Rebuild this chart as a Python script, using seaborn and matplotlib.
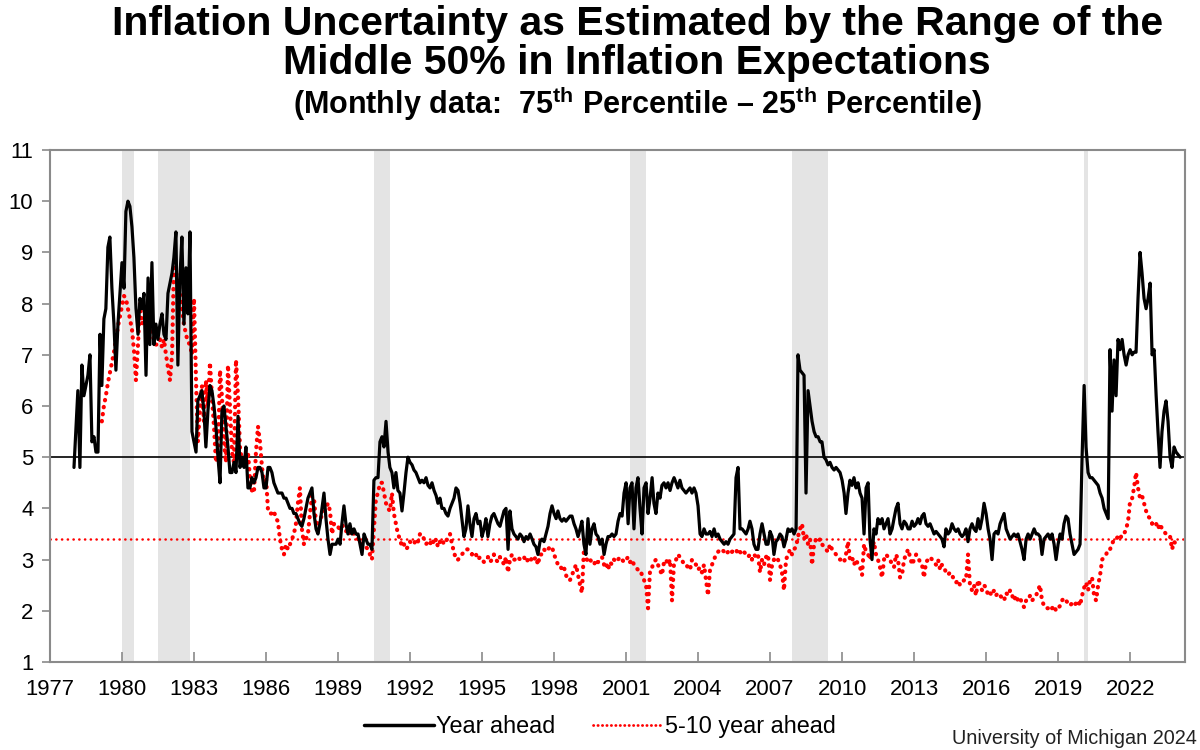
import pandas as pd
import matplotlib
matplotlib.use("Agg")
import matplotlib.pyplot as plt
import matplotlib.dates as mdates
from matplotlib import font_manager
from matplotlib.lines import Line2D
import seaborn as sns

# =====================================
# Data
# =====================================

# Year-ahead expectations, 75th - 25th percentile, monthly from Jan 1978
year_ahead = [
    4.8, 5.6, 6.3, 4.8, 6.8, 6.2, 6.4, 6.6, 7.0, 5.3, 5.4, 5.1,            # 1978
    5.1, 7.4, 6.4, 7.7, 7.9, 9.1, 9.3, 8.3, 7.6, 6.7, 7.6, 8.2,            # 1979
    8.8, 8.3, 9.8, 10.0, 9.9, 9.5, 8.9, 7.9, 7.4, 8.1, 7.9, 8.2,           # 1980
    6.6, 8.5, 7.2, 8.8, 7.2, 7.6, 7.3, 7.6, 7.8, 7.4, 7.3, 8.2,            # 1981
    8.4, 8.6, 8.9, 9.4, 6.8, 8.5, 9.3, 7.6, 8.7, 7.8, 9.4, 5.5,            # 1982
    5.3, 5.1, 6.1, 6.2, 6.3, 5.9, 5.2, 5.9, 6.4, 6.3, 6.0, 5.6,            # 1983
    5.0, 4.5, 5.9, 6.0, 5.6, 5.2, 4.7, 4.7, 4.9, 4.7, 5.8, 4.8,            # 1984
    5.0, 4.8, 5.2, 4.4, 4.4, 4.6, 4.5, 4.6, 4.8, 4.8, 4.7, 4.4,            # 1985
    4.4, 4.8, 4.8, 4.7, 4.5, 4.4, 4.3, 4.3, 4.3, 4.2, 4.2, 4.1,            # 1986
    4.0, 4.0, 3.9, 3.9, 3.8, 3.7, 3.65, 3.8, 4.0, 4.2, 4.3, 4.4,           # 1987
    3.9, 3.6, 3.5, 3.7, 4.0, 4.3, 3.8, 3.4, 3.1, 3.3, 3.3, 3.3,            # 1988
    3.4, 3.3, 3.7, 4.05, 3.7, 3.5, 3.7, 3.5, 3.6, 3.5, 3.5, 3.3,           # 1989
    3.1, 3.5, 3.4, 3.3, 3.3, 3.2, 4.55, 4.6, 4.6, 5.3, 5.4, 5.2,           # 1990
    5.7, 5.1, 4.8, 4.7, 4.4, 4.7, 4.35, 4.3, 3.95, 4.3, 4.7, 5.0,          # 1991
    4.9, 4.85, 4.75, 4.7, 4.6, 4.5, 4.55, 4.5, 4.6, 4.45, 4.4, 4.5,        # 1992
    4.35, 4.25, 4.1, 4.2, 4.0, 4.0, 3.9, 3.85, 4.0, 4.1, 4.2, 4.4,         # 1993
    4.35, 4.1, 3.8, 3.45, 3.6, 4.05, 3.7, 3.45, 3.8, 3.9, 3.7, 3.75,       # 1994
    3.45, 3.6, 3.8, 3.45, 3.7, 3.85, 3.9, 3.8, 3.7, 3.65, 3.8, 3.95,       # 1995
    4.0, 3.2, 3.95, 3.6, 3.5, 3.45, 3.4, 3.5, 3.45, 3.35, 3.45, 3.4,       # 1996
    3.5, 3.4, 3.3, 3.25, 3.1, 3.35, 3.4, 3.35, 3.5, 3.65, 3.9, 4.05,       # 1997
    3.9, 3.8, 3.95, 3.8, 3.75, 3.8, 3.75, 3.8, 3.85, 3.85, 3.7, 3.6,       # 1998
    3.45, 3.6, 3.75, 3.3, 3.1, 3.8, 3.3, 3.6, 3.7, 3.5, 3.45, 3.3,         # 1999
    3.4, 3.1, 3.3, 3.45, 3.45, 3.5, 3.45, 3.5, 3.75, 3.9, 3.85, 4.3,       # 2000
    4.5, 3.7, 4.4, 4.5, 3.6, 4.4, 4.6, 4.0, 3.5, 4.4, 4.5, 3.9,            # 2001
    4.2, 4.6, 4.1, 3.9, 4.3, 4.2, 4.45, 4.5, 4.4, 4.5, 4.35, 4.5,          # 2002
    4.6, 4.5, 4.4, 4.55, 4.4, 4.35, 4.3, 4.35, 4.4, 4.3, 4.4, 4.3,         # 2003
    4.05, 3.5, 3.45, 3.6, 3.5, 3.5, 3.55, 3.45, 3.6, 3.45, 3.5, 3.4,       # 2004
    3.35, 3.3, 3.35, 3.3, 3.4, 3.45, 3.5, 4.6, 4.8, 3.6, 3.6, 3.55,        # 2005
    3.5, 3.6, 3.75, 3.6, 3.3, 3.2, 3.2, 3.5, 3.7, 3.5, 3.3, 3.3,           # 2006
    3.55, 3.45, 3.1, 3.35, 3.4, 3.5, 3.45, 3.25, 3.4, 3.6, 3.55, 3.6,      # 2007
    3.5, 3.6, 7.0, 6.7, 6.65, 6.6, 4.3, 6.3, 6.0, 5.7, 5.5, 5.4,           # 2008
    5.4, 5.3, 5.3, 5.0, 4.95, 4.85, 4.9, 4.8, 4.75, 4.8, 4.75, 4.7,        # 2009
    4.55, 4.3, 3.9, 4.3, 4.55, 4.45, 4.6, 4.4, 4.5, 4.3, 4.2, 3.5,         # 2010
    4.4, 4.5, 3.4, 3.0, 3.6, 3.5, 3.8, 3.7, 3.8, 3.6, 3.7, 3.8,            # 2011
    3.5, 3.6, 3.8, 4.0, 4.1, 3.7, 3.6, 3.75, 3.7, 3.6, 3.6, 3.75,          # 2012
    3.65, 3.7, 3.8, 3.7, 3.85, 3.9, 3.7, 3.65, 3.7, 3.6, 3.5, 3.55,        # 2013
    3.5, 3.45, 3.4, 3.25, 3.6, 3.5, 3.55, 3.7, 3.6, 3.55, 3.6, 3.5,        # 2014
    3.45, 3.5, 3.6, 3.35, 3.6, 3.7, 3.6, 3.55, 3.8, 3.6, 3.8, 4.1,         # 2015
    3.9, 3.6, 3.4, 3.0, 3.5, 3.55, 3.5, 3.7, 3.8, 3.9, 3.6, 3.5,           # 2016
    3.4, 3.45, 3.5, 3.45, 3.5, 3.35, 3.2, 3.0, 3.4, 3.5, 3.4, 3.5,         # 2017
    3.6, 3.5, 3.5, 3.45, 3.1, 3.4, 3.45, 3.5, 3.4, 3.5, 3.3, 3.0,          # 2018
    3.3, 3.5, 3.4, 3.7, 3.85, 3.8, 3.5, 3.3, 3.1, 3.15, 3.2, 3.3,          # 2019
    5.0, 6.4, 5.2, 4.7, 4.6, 4.6, 4.55, 4.5, 4.45, 4.3, 4.2, 4.0,          # 2020
    3.9, 3.8, 7.1, 5.9, 6.9, 6.2, 7.3, 7.1, 7.3, 7.0, 6.8, 7.0,            # 2021
    7.1, 7.0, 7.05, 7.05, 8.1, 9.0, 8.6, 8.1, 7.9, 8.1, 8.4, 7.0,          # 2022
    7.1, 6.2, 5.5, 4.8, 5.5, 5.9, 6.1, 5.7, 5.0, 4.8, 5.2, 5.1,            # 2023
    5.05, 5.0,                                                             # 2024
]

# 5-10 year ahead expectations, monthly from Mar 1979
long_run = [
    5.7, 6.0, 6.2, 6.45, 6.65, 6.85, 7.05, 7.3, 7.55, 7.75,                # 1979
    7.95, 8.15, 8.1, 7.9, 7.7, 7.5, 7.1, 6.5, 7.2, 8.0, 7.6, 7.7,          # 1980
    7.6, 7.5, 7.6, 7.4, 7.3, 7.2, 7.2, 7.3, 7.15, 7.3, 7.0, 6.75,          # 1981
    6.5, 7.0, 8.7, 8.6, 8.5, 8.2, 7.9, 7.6, 7.4, 7.25, 7.2, 7.0,           # 1982
    8.1, 6.5, 5.3, 5.9, 6.4, 5.7, 6.5, 6.0, 6.85, 6.2, 5.6, 4.9,           # 1983
    5.1, 6.7, 6.2, 5.3, 4.9, 6.8, 6.0, 5.1, 4.9, 6.9, 6.2, 5.2,            # 1984
    4.9, 5.0, 4.8, 5.1, 4.6, 4.35, 4.3, 5.1, 5.6, 5.3, 4.8, 4.5,           # 1985
    4.6, 3.95, 3.9, 3.9, 3.95, 3.8, 3.75, 3.4, 3.2, 3.1, 3.3, 3.2,         # 1986
    3.3, 3.4, 3.5, 3.7, 4.1, 4.4, 3.6, 3.3, 3.4, 3.5, 3.9, 4.25,           # 1987
    4.2, 3.7, 3.65, 3.8, 3.85, 3.9, 4.0, 4.1, 3.95, 3.5, 3.7, 3.65,        # 1988
    3.65, 3.55, 3.7, 3.6, 3.55, 3.6, 3.5, 3.55, 3.5, 3.45, 3.4, 3.4,       # 1989
    3.3, 3.3, 3.25, 3.2, 3.1, 3.0, 3.6, 4.2, 4.3, 4.5, 4.5, 4.3,           # 1990
    4.1, 4.0, 3.95, 4.3, 3.9, 3.7, 3.5, 3.4, 3.25, 3.3, 3.2, 3.25,         # 1991
    3.35, 3.3, 3.3, 3.4, 3.35, 3.5, 3.5, 3.4, 3.3, 3.35, 3.3, 3.4,         # 1992
    3.3, 3.4, 3.25, 3.35, 3.4, 3.3, 3.35, 3.45, 3.5, 3.3, 3.15, 3.0,       # 1993
    3.0, 3.05, 3.1, 3.15, 3.2, 3.2, 3.15, 3.1, 3.15, 3.1, 3.0, 3.05,       # 1994
    3.0, 2.95, 3.0, 3.05, 2.95, 3.0, 3.1, 3.0, 2.95, 3.05, 3.0, 2.9,       # 1995
    3.05, 2.75, 3.0, 3.1, 3.0, 3.0, 3.05, 3.0, 3.0, 3.05, 2.95, 3.0,       # 1996
    2.95, 3.05, 3.0, 3.05, 2.9, 3.1, 3.1, 3.2, 3.15, 3.2, 3.25, 3.25,      # 1997
    3.1, 3.0, 2.9, 2.9, 2.8, 2.85, 2.7, 2.6, 2.6, 2.7, 2.8, 2.9,           # 1998
    2.7, 2.5, 2.35, 3.2, 3.05, 2.95, 3.0, 2.95, 2.9, 3.0, 2.95, 3.0,       # 1999
    3.05, 2.9, 2.95, 2.8, 2.95, 2.9, 3.0, 2.95, 3.0, 3.05, 3.0, 2.95,      # 2000
    3.0, 3.05, 2.95, 3.0, 2.9, 2.85, 2.8, 2.8, 2.7, 2.6, 2.5, 2.05,        # 2001
    2.8, 2.85, 2.95, 3.0, 2.9, 2.8, 2.7, 2.95, 3.0, 2.9, 3.0, 2.2,         # 2002
    2.95, 3.0, 3.1, 3.05, 3.0, 2.9, 2.9, 2.85, 2.8, 3.0, 2.95, 2.9,        # 2003
    2.8, 2.85, 2.75, 2.9, 2.6, 2.3, 2.8, 2.9, 3.0, 3.1, 3.15, 3.2,         # 2004
    3.2, 3.15, 3.1, 3.15, 3.2, 3.15, 3.2, 3.2, 3.1, 3.15, 3.1, 3.15,       # 2005
    3.1, 3.05, 3.1, 3.0, 3.1, 3.05, 3.1, 2.75, 3.0, 2.9, 3.05, 3.1,        # 2006
    2.6, 2.9, 3.0, 2.95, 3.0, 2.9, 2.75, 2.4, 3.0, 3.1, 3.2, 3.1,          # 2007
    3.2, 3.25, 3.45, 3.6, 3.7, 3.4, 3.5, 3.3, 3.4, 2.9, 3.3, 3.4,          # 2008
    3.35, 3.4, 3.3, 3.25, 3.2, 3.15, 3.3, 3.2, 3.15, 3.1, 3.05, 3.0,       # 2009
    3.0, 2.95, 3.1, 3.35, 3.0, 3.05, 2.9, 3.0, 2.9, 2.85, 2.7, 3.3,        # 2010
    3.15, 3.1, 3.0, 3.2, 3.35, 3.1, 3.0, 2.85, 2.65, 3.0, 3.1, 3.05,       # 2011
    3.0, 2.9, 2.85, 3.1, 3.0, 2.65, 2.7, 3.0, 3.1, 3.2, 3.05, 2.9,         # 2012
    3.0, 3.1, 3.05, 2.95, 2.9, 2.65, 2.95, 3.0, 3.05, 3.0, 2.95, 2.9,      # 2013
    3.0, 2.8, 2.9, 2.85, 2.75, 2.7, 2.75, 2.7, 2.6, 2.55, 2.6, 2.5,        # 2014
    2.55, 2.6, 2.6, 3.1, 2.5, 2.4, 2.5, 2.3, 2.6, 2.5, 2.4, 2.5,           # 2015
    2.45, 2.3, 2.35, 2.3, 2.4, 2.3, 2.35, 2.3, 2.25, 2.2, 2.35, 2.3,       # 2016
    2.4, 2.3, 2.2, 2.3, 2.2, 2.25, 2.15, 2.07, 2.2, 2.2, 2.3, 2.2,         # 2017
    2.25, 2.3, 2.4, 2.5, 2.2, 2.1, 2.05, 2.05, 2.1, 2.05, 2.1, 2.0,        # 2018
    2.05, 2.1, 2.2, 2.25, 2.2, 2.15, 2.1, 2.15, 2.1, 2.15, 2.2, 2.1,       # 2019
    2.3, 2.45, 2.55, 2.4, 2.6, 2.65, 2.3, 2.2, 2.5, 2.7, 3.0, 3.05,        # 2020
    3.1, 3.2, 3.2, 3.3, 3.4, 3.4, 3.45, 3.4, 3.5, 3.5, 3.6, 3.75,          # 2021
    4.15, 4.2, 4.4, 4.7, 4.4, 4.2, 4.25, 4.1, 3.95, 3.85, 3.8, 3.7,        # 2022
    3.75, 3.7, 3.6, 3.7, 3.6, 3.55, 3.5, 3.45, 3.45, 3.2, 3.35, 3.3,       # 2023
]

# Recession periods (shaded)
rec_start = ["1980-01-01", "1981-07-01", "1990-07-01", "2001-03-01", "2007-12-01", "2020-02-01"]
rec_end = ["1980-07-01", "1982-11-01", "1991-03-01", "2001-11-01", "2009-06-01", "2020-04-01"]

# Reference levels
year_ahead_ref = 5.0
long_run_ref = 3.4

y_ticks = list(range(1, 12))

df_ya = pd.DataFrame({
    "date": pd.date_range("1978-01-01", periods=len(year_ahead), freq="MS"),
    "value": year_ahead,
})
df_lr = pd.DataFrame({
    "date": pd.date_range("1979-03-01", periods=len(long_run), freq="MS"),
    "value": long_run,
})

# =====================================
# Style
# =====================================

sns.set_theme(style="white")
installed = {f.name for f in font_manager.fontManager.ttflist}
narrow = "Liberation Sans Narrow" in installed
base_font = "Liberation Sans Narrow" if narrow else "Liberation Sans"
plt.rcParams["font.family"] = [base_font, "Liberation Sans", "DejaVu Sans"]
plt.rcParams["mathtext.fontset"] = "custom"
plt.rcParams["mathtext.bf"] = base_font + ":bold"
plt.rcParams["mathtext.rm"] = base_font + ":bold"
plt.rcParams["text.color"] = "black"
plt.rcParams["xtick.labelcolor"] = "black"
plt.rcParams["ytick.labelcolor"] = "black"

k = 1.0 if narrow else 0.84   # shrink text if no condensed face

# =====================================
# Plot
# =====================================

fig = plt.figure(figsize=(12, 7.5), dpi=100)
ax = fig.add_axes([50 / 1200, 88 / 750, 1135 / 1200, 512 / 750])

for s, e in zip(rec_start, rec_end):
    ax.axvspan(pd.Timestamp(s), pd.Timestamp(e), color="#e4e4e4", lw=0, zorder=0)

ax.axhline(year_ahead_ref, color="black", lw=1.2, zorder=1)
ax.axhline(long_run_ref, color="red", lw=1.8, linestyle=(0, (0.1, 2.2)),
           dash_capstyle="round", zorder=1)

sns.lineplot(data=df_lr, x="date", y="value", ax=ax, color="red", lw=3,
             linestyle=(0, (0.1, 1.6)), dash_capstyle="round", zorder=2)
sns.lineplot(data=df_ya, x="date", y="value", ax=ax, color="black", lw=2.3, zorder=3)

ax.set_xlim(pd.Timestamp("1977-01-01"), pd.Timestamp("2024-04-15"))
ax.set_ylim(1, 11)
ax.set_yticks(y_ticks)
ax.xaxis.set_major_locator(mdates.YearLocator(3))
ax.xaxis.set_major_formatter(mdates.DateFormatter("%Y"))
ax.set_xlabel("")
ax.set_ylabel("")

for side in ["left", "bottom", "top", "right"]:
    ax.spines[side].set_visible(True)
    ax.spines[side].set_color("#8a8a8a")
    ax.spines[side].set_linewidth(1.5)

ax.tick_params(axis="x", direction="in", length=7, width=1.2, color="#8a8a8a",
               labelsize=19 * k, pad=12, bottom=True)
ax.tick_params(axis="y", direction="out", length=6, width=1.2, color="#8a8a8a",
               labelsize=19 * k, pad=6, left=True)

# Titles
title_size = 29.5 if not narrow else 32
sub_size = 22 if not narrow else 22
fig.text(0.531, 0.968, "Inflation Uncertainty as Estimated by the Range of the",
         ha="center", va="center", fontsize=title_size, fontweight="bold")
fig.text(0.531, 0.916, "Middle 50% in Inflation Expectations",
         ha="center", va="center", fontsize=title_size, fontweight="bold")
fig.text(0.531, 0.862,
         r"(Monthly data:  75$^{\mathbf{th}}$ Percentile – 25$^{\mathbf{th}}$ Percentile)",
         ha="center", va="center", fontsize=sub_size, fontweight="bold")

# Legend
handles = [
    Line2D([], [], color="black", lw=2.5),
    Line2D([], [], color="red", lw=2, linestyle=(0, (0.1, 1.5)), dash_capstyle="round"),
]
fig.legend(handles, ["Year ahead", "5-10 year ahead"], loc="center",
           bbox_to_anchor=(0.5, 0.031), ncol=2, frameon=False,
           fontsize=20 * k, handlelength=3.0, handletextpad=0.1, columnspacing=1.6)

fig.text(0.997, 0.003, "University of Michigan 2024", ha="right", va="bottom",
         fontsize=17 * k, color="#222222")

plt.savefig("out.png", dpi=100)
plt.close()
